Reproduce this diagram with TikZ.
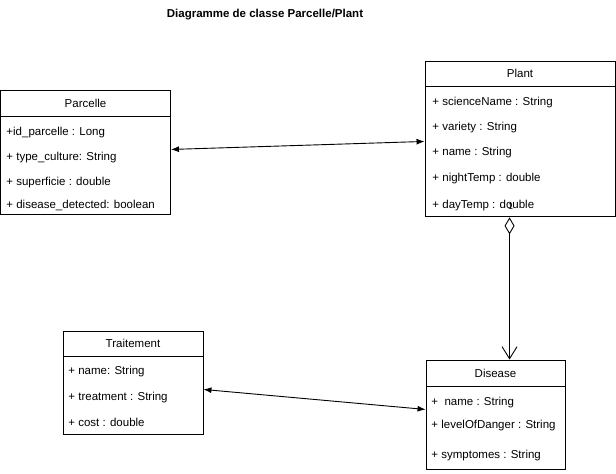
\documentclass[tikz,border=0pt]{standalone}
\usepackage{fontspec}
\setmainfont{Liberation Sans}
\usetikzlibrary{arrows.meta,calc}

\begin{document}
\begin{tikzpicture}[x=1pt,y=-1pt,line width=0.9pt,
head/.style={draw=black, fill=white, inner sep=0pt, font=\fontsize{11.5}{13}\selectfont},
body/.style={draw=black, fill=white, inner sep=0pt, anchor=north},
attr/.style={anchor=west, inner sep=0pt, text height=8.4pt, text depth=0pt, font=\fontsize{11.5}{13}\selectfont},
both/.style={{Latex[length=8pt,width=6pt]}-{Latex[length=8pt,width=6pt]}},
agg/.style={{Diamond[open,length=17pt,width=10pt]}-{Straight Barb[length=12pt,width=15pt]}}]
\useasboundingbox (0,0) rectangle (616,474);
\node[font=\bfseries\fontsize{11.5}{13}\selectfont] (title) at (265,15) {Diagramme de classe Parcelle/Plant};
\node[head, minimum width=170pt, minimum height=26pt] (parcelle) at (85.5,103) {Parcelle};
\node[body, minimum width=170pt, minimum height=98pt] (parcellebody) at (parcelle.south) {};
\node[attr] (pa1) at (6,131) {+id\_parcelle : Long};
\node[attr] (pa2) at (6,156) {+ type\_culture: String};
\node[attr] (pa3) at (6,181) {+ superficie : double};
\node[attr] (pa4) at (6,204) {+ disease\_detected: boolean};
\node[head, minimum width=190pt, minimum height=25pt] (plant) at (520,73.5) {Plant};
\node[body, minimum width=190pt, minimum height=130pt] (plantbody) at (plant.south) {};
\node[attr] (pl1) at (432,101) {+ scienceName : String};
\node[attr] (pl2) at (432,126) {+ variety : String};
\node[attr] (pl3) at (432,151) {+ name : String};
\node[attr] (pl4) at (432,177) {+ nightTemp : double};
\node[attr] (pl5) at (432,204) {+ dayTemp : double};
\node[head, minimum width=140pt, minimum height=25pt] (traitement) at (133,343.5) {Traitement};
\node[body, minimum width=140pt, minimum height=78pt] (traitementbody) at (traitement.south) {};
\node[attr] (tr1) at (68,370) {+ name: String};
\node[attr] (tr2) at (68,396) {+ treatment : String};
\node[attr] (tr3) at (68,422) {+ cost : double};
\node[head, minimum width=139pt, minimum height=26pt] (disease) at (495.5,373) {Disease};
\node[body, minimum width=139pt, minimum height=83pt] (diseasebody) at (disease.south) {};
\node[attr] (di1) at (431,401) {+ \ name : String};
\node[attr] (di2) at (431,424) {+ levelOfDanger : String};
\node[attr] (di3) at (431,454) {+ symptomes : String};
\coordinate (aggtop) at ($(plantbody.south west)+(85,0)$);
\draw[both] ($(parcellebody.north east)+(0,33)$) -- ($(plantbody.north west)+(0,55)$);
\draw[both] ($(traitementbody.north east)+(0,33)$) -- ($(diseasebody.north west)+(0,23)$);
\draw[agg] (aggtop) -- (aggtop |- disease.north);
\node[font=\fontsize{9}{10}\selectfont, inner sep=0pt] (one) at ($(aggtop)+(1,-11)$) {1};
\end{tikzpicture}
\end{document}
